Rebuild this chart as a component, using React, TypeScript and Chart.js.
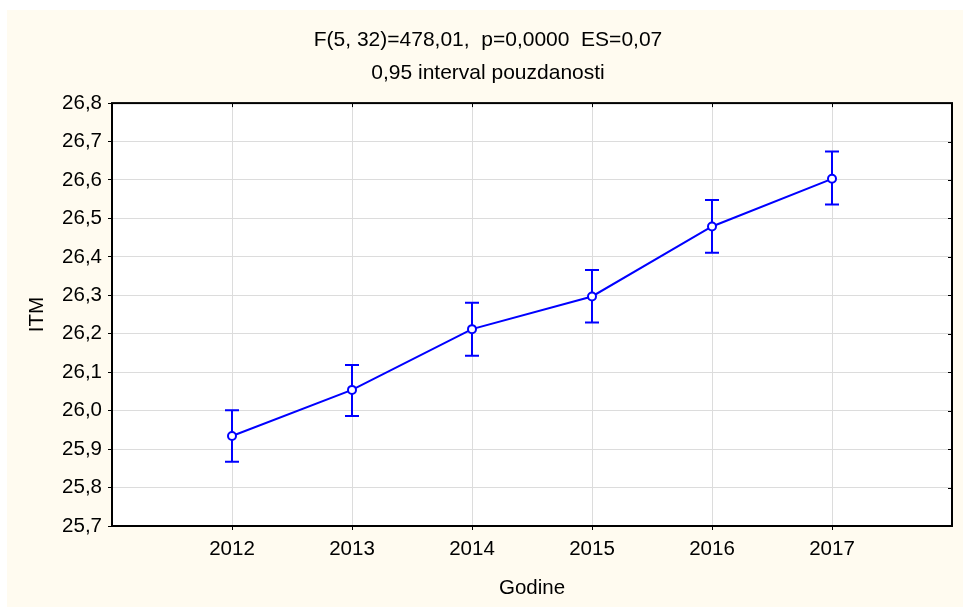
import React, { useEffect, useRef } from 'react';
import { Chart, registerables } from 'chart.js';

Chart.register(...registerables);

const years = [2012, 2013, 2014, 2015, 2016, 2017];
const means = [25.934, 26.054, 26.212, 26.297, 26.479, 26.603];
const lower = [25.867, 25.986, 26.143, 26.229, 26.411, 26.536];
const upper = [26.001, 26.119, 26.281, 26.366, 26.548, 26.674];
const titleLines = ['F(5, 32)=478,01,  p=0,0000  ES=0,07', '0,95 interval pouzdanosti'];
const xLabel = 'Godine';
const yLabel = 'ITM';
const xMin = 2011;
const xMax = 2018;
const yMin = 25.7;
const yMax = 26.8;

const BLUE = '#0000FF';
const CREAM = '#FFFBF0';
const GRID = '#DCDCDC';
const FONT = "'Liberation Sans', Arial, sans-serif";

const decor = {
  id: 'decor',
  beforeDraw(chart: any) {
    const { ctx, chartArea: a, width, height } = chart;
    ctx.save();
    ctx.fillStyle = '#FFFFFF';
    ctx.fillRect(0, 0, width, height);
    ctx.fillStyle = CREAM;
    ctx.fillRect(7, 10, width - 7, height - 10);
    ctx.fillStyle = '#FFFFFF';
    ctx.fillRect(a.left, a.top, a.right - a.left, a.bottom - a.top);
    ctx.restore();
  },
  beforeDatasetsDraw(chart: any) {
    const { ctx, chartArea: a, scales } = chart;
    const xs = scales.x;
    const ys = scales.y;
    ctx.save();
    ctx.strokeStyle = '#000';
    ctx.lineWidth = 1;
    ctx.beginPath();
    years.forEach((v) => {
      const px = Math.round(xs.getPixelForValue(v)) + 0.5;
      ctx.moveTo(px, a.top);
      ctx.lineTo(px, a.top + 4);
    });
    ys.ticks.forEach((t: any) => {
      const py = Math.round(ys.getPixelForValue(t.value)) + 0.5;
      ctx.moveTo(a.right, py);
      ctx.lineTo(a.right - 4, py);
    });
    ctx.stroke();
    ctx.lineWidth = 2;
    ctx.strokeRect(a.left, a.top, a.right - a.left, a.bottom - a.top);
    ctx.strokeStyle = BLUE;
    ctx.lineWidth = 2;
    years.forEach((v, i) => {
      const px = xs.getPixelForValue(v);
      const pl = ys.getPixelForValue(lower[i]);
      const pu = ys.getPixelForValue(upper[i]);
      ctx.beginPath();
      ctx.moveTo(px, pu);
      ctx.lineTo(px, pl);
      ctx.moveTo(px - 7, pu);
      ctx.lineTo(px + 7, pu);
      ctx.moveTo(px - 7, pl);
      ctx.lineTo(px + 7, pl);
      ctx.stroke();
    });
    ctx.restore();
  },
};

const isEdge = (v: number, lo: number, hi: number) =>
  Math.abs(v - lo) < 1e-6 || Math.abs(v - hi) < 1e-6;

export default function App() {
  const ref = useRef<HTMLCanvasElement>(null);

  useEffect(() => {
    if (!ref.current) return;
    const font = { family: FONT, size: 20.5, weight: 'normal' as any };
    const chart = new Chart(ref.current, {
      type: 'line',
      data: {
        datasets: [
          {
            data: years.map((x, i) => ({ x, y: means[i] })),
            borderColor: BLUE,
            borderWidth: 2,
            pointRadius: 4,
            pointBorderWidth: 2,
            pointBackgroundColor: '#FFFFFF',
            pointBorderColor: BLUE,
            tension: 0,
          },
        ],
      },
      options: {
        animation: false,
        responsive: false,
        devicePixelRatio: 1,
        layout: { padding: { top: 0, left: 24, right: 11, bottom: 0 } },
        plugins: {
          legend: { display: false },
          tooltip: { enabled: false },
          title: {
            display: true,
            text: titleLines,
            color: '#000',
            font: { family: FONT, size: 21, weight: 'normal' as any, lineHeight: 1.55 },
            padding: { top: 24, bottom: 14 },
          },
        },
        scales: {
          x: {
            type: 'linear',
            min: xMin,
            max: xMax,
            ticks: {
              stepSize: 1,
              autoSkip: false,
              maxRotation: 0,
              color: '#000',
              font,
              padding: 7,
              callback: (v: any) => (isEdge(Number(v), xMin, xMax) ? '' : String(v)),
            },
            grid: {
              color: (c: any) => (c.tick && isEdge(c.tick.value, xMin, xMax) ? 'rgba(0,0,0,0)' : GRID),
              tickColor: (c: any) => (c.tick && isEdge(c.tick.value, xMin, xMax) ? 'rgba(0,0,0,0)' : '#000'),
              tickLength: 4,
              lineWidth: 1,
            },
            border: { display: false },
            title: { display: true, text: xLabel, color: '#000', font, padding: { top: 0, bottom: 6 } },
            afterFit: (s: any) => {
              s.height = 81;
            },
          },
          y: {
            type: 'linear',
            min: yMin,
            max: yMax,
            ticks: {
              stepSize: 0.1,
              color: '#000',
              font,
              padding: 6,
              callback: (v: any) => Number(v).toFixed(1).replace('.', ','),
            },
            grid: {
              color: (c: any) => (c.tick && isEdge(c.tick.value, yMin, yMax) ? 'rgba(0,0,0,0)' : GRID),
              tickColor: '#000',
              tickLength: 4,
              lineWidth: 1,
            },
            border: { display: false },
            title: { display: true, text: yLabel, color: '#000', font, padding: { top: 1, bottom: 0 } },
            afterFit: (s: any) => {
              s.width = 88;
            },
          },
        },
      },
      plugins: [decor],
    });
    return () => chart.destroy();
  }, []);

  return (
    <div style={{ position: 'absolute', left: 0, top: 0, width: 963, height: 607 }}>
      <canvas ref={ref} width={963} height={607} style={{ display: 'block' }} />
    </div>
  );
}
